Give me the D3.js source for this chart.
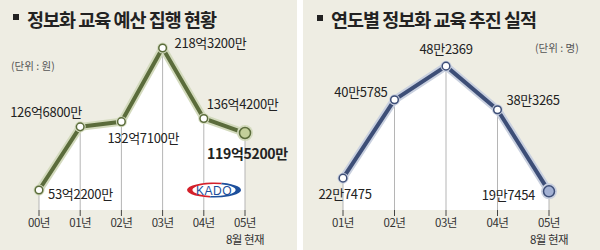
<!DOCTYPE html>
<html>
<head>
<meta charset="utf-8">
<script src="https://cdn.jsdelivr.net/npm/d3@7"></script>
<style>
  body { margin: 0; background: #fff; }
  svg { display: block; font-family: "Noto Sans CJK KR", "Noto Sans", sans-serif; }
</style>
</head>
<body>
<svg id="chart" width="600" height="250"></svg>
<script>
// --- data ---
const budgetYears = ['00년', '01년', '02년', '03년', '04년', '05년'];
const budgetValues = [53.22, 126.68, 132.71, 218.32, 136.42, 119.52]; // 억원
const budgetLabels = ['53억2200만', '126억6800만', '132억7100만', '218억3200만', '136억4200만', '119억5200만'];

const peopleYears = ['01년', '02년', '03년', '04년', '05년'];
const peopleValues = [22.7475, 40.5785, 48.2369, 38.3265, 19.7454]; // 만명
const peopleLabels = ['22만7475', '40만5785', '48만2369', '38만3265', '19만7454'];

const svg = d3.select('#chart');
const BG = '#eeede3';
const BASE_Y = 210;

// panel backgrounds
svg.append('rect').attr('x', 0).attr('y', 0).attr('width', 297).attr('height', 250).attr('fill', BG);
svg.append('rect').attr('x', 303).attr('y', 0).attr('width', 297).attr('height', 250).attr('fill', BG);

function drawPanel(opt) {
  const g = svg.append('g');
  const x = d3.scalePoint().domain(opt.years).range(opt.xRange);
  const y = d3.scaleLinear().domain(opt.yDomain).range([BASE_Y, opt.yTop]);
  const pts = opt.values.map((v, i) => ({ year: opt.years[i], v, label: opt.labels[i], i }));

  // title
  const title = g.append('g');
  title.append('rect')
    .attr('x', opt.titleX).attr('y', opt.squareY).attr('width', 6).attr('height', 6).attr('fill', '#222');
  title.append('text')
    .attr('x', opt.titleX + 14).attr('y', 27)
    .attr('font-size', 18.5).attr('font-weight', 'bold').attr('fill', '#222')
    .attr('letter-spacing', -1)
    .text(opt.title);

  // unit
  g.append('text')
    .attr('x', opt.unitX).attr('y', opt.unitY)
    .attr('font-size', 10.5).attr('fill', '#555')
    .text(opt.unit);

  // white area under the line
  const area = d3.area().x(d => x(d.year)).y0(BASE_Y).y1(d => y(d.v));
  g.append('path').datum(pts).attr('d', area).attr('fill', '#fff');

  // drop lines
  g.selectAll('.drop').data(pts).join('line')
    .attr('x1', d => x(d.year)).attr('x2', d => x(d.year))
    .attr('y1', d => y(d.v)).attr('y2', BASE_Y)
    .attr('stroke', '#b5b5b5').attr('stroke-width', 1);

  // ticks below baseline
  g.selectAll('.tick').data(pts).join('line')
    .attr('x1', d => x(d.year)).attr('x2', d => x(d.year))
    .attr('y1', BASE_Y).attr('y2', BASE_Y + 6)
    .attr('stroke', '#444').attr('stroke-width', 1);

  // line with halo
  const line = d3.line().x(d => x(d.year)).y(d => y(d.v));
  g.append('path').datum(pts).attr('d', line)
    .attr('fill', 'none').attr('stroke', opt.halo).attr('stroke-width', 8).attr('stroke-linejoin', 'round');
  g.append('path').datum(pts).attr('d', line)
    .attr('fill', 'none').attr('stroke', opt.color).attr('stroke-width', 4).attr('stroke-linejoin', 'round');

  // points
  const last = pts.length - 1;
  g.selectAll('.halo').data(pts).join('circle')
    .attr('cx', d => x(d.year)).attr('cy', d => y(d.v))
    .attr('r', d => d.i === last ? 8 : 5.5)
    .attr('fill', opt.halo);
  g.selectAll('.pt').data(pts).join('circle')
    .attr('cx', d => x(d.year)).attr('cy', d => y(d.v))
    .attr('r', d => d.i === last ? 5.5 : 3.8)
    .attr('fill', d => d.i === last ? opt.lastFill : '#fff')
    .attr('stroke', opt.color).attr('stroke-width', 1.5);

  // value labels
  g.selectAll('.val').data(pts).join('text')
    .attr('x', d => x(d.year) + opt.labelPos[d.i][0])
    .attr('y', d => y(d.v) + opt.labelPos[d.i][1])
    .attr('text-anchor', d => opt.labelPos[d.i][2])
    .attr('font-size', d => (opt.boldLast && d.i === last) ? 14 : 13)
    .attr('font-weight', d => (opt.boldLast && d.i === last) ? 'bold' : 'normal')
    .attr('fill', '#222')
    .attr('letter-spacing', -0.3)
    .text(d => d.label);

  // year labels
  g.selectAll('.yr').data(pts).join('text')
    .attr('x', d => x(d.year)).attr('y', 227)
    .attr('text-anchor', 'middle').attr('font-size', 11.5).attr('fill', '#333')
    .attr('letter-spacing', -0.5)
    .text(d => d.year);
  g.append('text')
    .attr('x', x(opt.years[last])).attr('y', 244)
    .attr('text-anchor', 'middle').attr('font-size', 11.5).attr('fill', '#333')
    .attr('letter-spacing', -0.5)
    .text('8월 현재');

  return { g, x, y };
}

drawPanel({
  years: budgetYears, values: budgetValues, labels: budgetLabels,
  xRange: [39, 245], yDomain: [30, 220], yTop: 46.6,
  title: '정보화 교육 예산 집행 현황', titleX: 13, squareY: 14,
  unit: '(단위 : 원)', unitX: 11, unitY: 70,
  color: '#5b6c3b', halo: '#d3dabd', lastFill: '#c3cf9a', boldLast: true,
  labelPos: [
    [9, 9, 'start'],
    [-70, -10, 'start'],
    [-14, 21, 'start'],
    [12, 0, 'start'],
    [3, -9, 'start'],
    [-38, 26, 'start']
  ]
});

drawPanel({
  years: peopleYears, values: peopleValues, labels: peopleLabels,
  xRange: [343, 549], yDomain: [15.5, 50], yTop: 58.4,
  title: '연도별 정보화 교육 추진 실적', titleX: 317, squareY: 15,
  unit: '(단위 : 명)', unitX: 535, unitY: 52,
  color: '#3d4e77', halo: '#c9d0df', lastFill: '#a3b1d3', boldLast: false,
  labelPos: [
    [2, 21, 'middle'],
    [-7, -3, 'end'],
    [0, -12, 'middle'],
    [9, -5, 'start'],
    [-14, 9, 'end']
  ]
});

// KADO logo
const logo = svg.append('g').attr('transform', 'translate(214,190)');
logo.append('ellipse').attr('rx', 27).attr('ry', 7.5).attr('fill', '#fff');
logo.append('path')
  .attr('d', d3.arc()({ innerRadius: 0.8, outerRadius: 1, startAngle: -Math.PI * 0.95, endAngle: Math.PI * 0.1 }))
  .attr('transform', 'scale(27,7.5)').attr('fill', '#d4202a');
logo.append('path')
  .attr('d', d3.arc()({ innerRadius: 0.8, outerRadius: 1, startAngle: Math.PI * 0.1, endAngle: Math.PI * 1.05 }))
  .attr('transform', 'scale(27,7.5)').attr('fill', '#1d4f9c');
logo.append('text')
  .attr('y', 4.5).attr('text-anchor', 'middle')
  .attr('font-family', 'Liberation Sans, Arial, sans-serif')
  .attr('font-size', 12).attr('fill', '#1d4f9c').attr('letter-spacing', 0.5)
  .text('KADO');
</script>
</body>
</html>
